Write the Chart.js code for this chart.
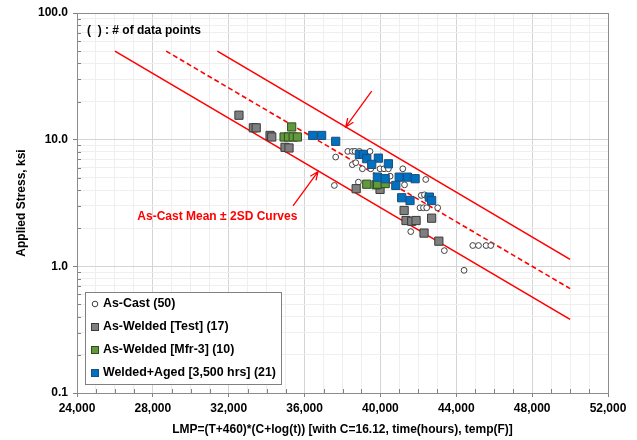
<!DOCTYPE html>
<html>
<head>
<meta charset="utf-8">
<script src="https://cdn.jsdelivr.net/npm/chart.js@4.4.1/dist/chart.umd.min.js"></script>
<style>
  html, body { margin: 0; padding: 0; background: #fff; }
  #wrap { width: 637px; height: 440px; }
</style>
</head>
<body>
<div id="wrap"><canvas id="lmpChart"></canvas></div>
<script>
// As-Cast (open circles)
const castLmp = [37570, 37640, 38280, 38520, 38660, 38890, 39450, 38520, 38700, 39050,
  39490, 39980, 40190, 40420, 41180, 40510, 38840, 41270, 42390, 42150,
  42320, 42480, 42090, 42270, 42440, 43020, 41600, 43370, 44870, 45170,
  45570, 45820, 44410];
const castStress = [4.35, 7.29, 8.08, 8.08, 8.08, 8.08, 8.08, 6.35, 6.58, 5.89,
  5.89, 5.89, 5.89, 5.89, 5.89, 5.15, 4.62, 4.40, 4.85, 3.63,
  3.67, 3.55, 2.90, 2.90, 2.90, 2.90, 1.88, 1.33, 1.46, 1.46,
  1.46, 1.46, 0.93];

// As-Welded [Test] (gray squares)
const testLmp = [32540, 33300, 33450, 34180, 34270, 34970, 35180, 38720, 39980, 41250,
  41350, 41650, 41880, 42700, 42300, 43080];
const testStress = [15.6, 12.4, 12.4, 10.8, 10.5, 8.7, 8.6, 4.1, 4.05, 2.76,
  2.30, 2.27, 2.30, 2.40, 1.83, 1.58];

// As-Welded [Mfr-3] (green squares)
const mfrLmp = [35320, 34920, 35150, 35400, 35620, 39280, 39770, 39850, 40250];
const mfrStress = [12.6, 10.5, 10.5, 10.5, 10.5, 4.45, 4.4, 4.45, 4.5];

// Welded+Aged [3,500 hrs] (blue squares)
const agedLmp = [36430, 36900, 37640, 38890, 39100, 39280, 39890, 39540, 40420, 39840,
  40250, 40990, 41420, 41830, 40810, 41120, 41560, 42580, 42700];
const agedStress = [10.8, 10.8, 9.7, 7.65, 7.65, 7.08, 7.15, 6.38, 6.45, 5.06,
  4.92, 5.06, 5.06, 4.92, 4.35, 3.48, 3.31, 3.52, 3.31];

// As-Cast mean and +/- 2SD curves
const meanLmp = [28700, 50000];
const meanStress = [50, 0.667];
const lowLmp = [26000, 50000];
const lowStress = [50, 0.381];
const highLmp = [31400, 50000];
const highStress = [50, 1.136];

// axis ticks
const yDecades = [0.1, 1, 10, 100];
const yDecadeLabels = ["0.1", "1.0", "10.0", "100.0"];
const xMin = 24000, xMax = 52000, xStep = 1000, xLabelStep = 4000;

const seriesNames = [
  "As-Cast (50)",
  "As-Welded [Test] (17)",
  "As-Welded [Mfr-3] (10)",
  "Welded+Aged [3,500 hrs] (21)",
];

// annotation arrows (from -> to, data units)
const arrowLow = { from: [35390, 3.0], to: [36710, 5.6] };
const arrowHigh = { from: [39540, 24.2], to: [38170, 12.6] };

function pairs(xs, ys) {
  return xs.map((x, i) => ({ x: x, y: ys[i] }));
}

// alle kleine log-ticks 0.1 .. 100
const yTickValues = [];
yDecades.forEach((d, i) => {
  if (i === yDecades.length - 1) {
    yTickValues.push(d);
    return;
  }
  for (let k = 1; k <= 9; k++) yTickValues.push(+(d * k).toPrecision(3));
});

function isDecade(v) {
  const l = Math.log10(v);
  return Math.abs(l - Math.round(l)) < 1e-9;
}

const boldFont = "'Liberation Sans', Arial, sans-serif";

const extras = {
  id: "extras",
  beforeDatasetsDraw(chart) {
    const { ctx, chartArea: a } = chart;
    const xs = chart.scales.x, ys = chart.scales.y;
    ctx.save();
    // kleine ticks naar binnen
    ctx.strokeStyle = "#808080";
    ctx.lineWidth = 1;
    ctx.beginPath();
    yTickValues.forEach((v) => {
      if (isDecade(v)) return;
      const py = Math.round(ys.getPixelForValue(v)) + 0.5;
      ctx.moveTo(a.left, py);
      ctx.lineTo(a.left + 4, py);
    });
    for (let v = xMin; v <= xMax; v += xStep) {
      if (v % xLabelStep === 0) continue;
      const px = Math.round(xs.getPixelForValue(v)) + 0.5;
      ctx.moveTo(px, a.bottom);
      ctx.lineTo(px, a.bottom - 4);
    }
    ctx.stroke();
    // kader
    ctx.strokeStyle = "#8c8c8c";
    ctx.strokeRect(Math.round(a.left) + 0.5, Math.round(a.top) + 0.5,
      Math.round(a.right - a.left), Math.round(a.bottom - a.top));
    ctx.restore();
  },
  afterDraw(chart) {
    const { ctx, chartArea: a } = chart;
    const xs = chart.scales.x, ys = chart.scales.y;
    ctx.save();

    // note top-left
    ctx.fillStyle = "#000";
    ctx.font = "bold 12px " + boldFont;
    ctx.textBaseline = "middle";
    ctx.textAlign = "left";
    ctx.fillText("(  ) : # of data points", a.left + 10, 31);

    // arrows
    ctx.strokeStyle = "#ff0000";
    ctx.lineWidth = 1.3;
    [arrowLow, arrowHigh].forEach((ar) => {
      const x1 = xs.getPixelForValue(ar.from[0]), y1 = ys.getPixelForValue(ar.from[1]);
      const x2 = xs.getPixelForValue(ar.to[0]), y2 = ys.getPixelForValue(ar.to[1]);
      const ang = Math.atan2(y2 - y1, x2 - x1);
      ctx.beginPath();
      ctx.moveTo(x1, y1);
      ctx.lineTo(x2, y2);
      ctx.moveTo(x2 - 9 * Math.cos(ang - 0.4), y2 - 9 * Math.sin(ang - 0.4));
      ctx.lineTo(x2, y2);
      ctx.lineTo(x2 - 9 * Math.cos(ang + 0.4), y2 - 9 * Math.sin(ang + 0.4));
      ctx.stroke();
    });
    ctx.fillStyle = "#ff0000";
    ctx.font = "bold 12px " + boldFont;
    ctx.textAlign = "center";
    const tx = xs.getPixelForValue(31400), ty = ys.getPixelForValue(2.45);
    ctx.fillText("As-Cast Mean \u00b1 2SD Curves", tx, ty);

    // legend box
    const bx = a.left + 8, by = a.top + 279, bw = 196, bh = 92;
    ctx.fillStyle = "#fff";
    ctx.fillRect(bx, by, bw, bh);
    ctx.strokeStyle = "#808080";
    ctx.lineWidth = 1;
    ctx.strokeRect(bx + 0.5, by + 0.5, bw, bh);
    ctx.font = "bold 12.4px " + boldFont;
    ctx.textAlign = "left";
    ctx.textBaseline = "middle";
    for (let i = 0; i < 4; i++) {
      const ds = chart.data.datasets[i];
      const cy = by + 12 + i * 23;
      const cx = bx + 10;
      ctx.fillStyle = ds.backgroundColor;
      ctx.strokeStyle = ds.borderColor;
      ctx.lineWidth = 1;
      if (ds.pointStyle === "circle") {
        ctx.beginPath();
        ctx.arc(cx, cy, 2.8, 0, Math.PI * 2);
        ctx.fill();
        ctx.stroke();
      } else {
        ctx.fillRect(cx - 3.5, cy - 3.5, 7, 7);
        ctx.strokeRect(cx - 3.5, cy - 3.5, 7, 7);
      }
      ctx.fillStyle = "#000";
      ctx.fillText(ds.label, bx + 18, cy);
    }
    ctx.restore();
  },
};

const pointSet = (label, xs, ys, style, r, bg, border, order) => ({
  label: label,
  data: pairs(xs, ys),
  pointStyle: style,
  pointRadius: r,
  pointHoverRadius: r,
  backgroundColor: bg,
  borderColor: border,
  borderWidth: 1,
  showLine: false,
  order: order,
});

const lineSet = (xs, ys, dash) => ({
  label: "",
  data: pairs(xs, ys),
  showLine: true,
  borderColor: "#ff0000",
  borderWidth: 1.6,
  borderDash: dash,
  pointRadius: 0,
  fill: false,
  order: 10,
});

new Chart(document.getElementById("lmpChart"), {
  type: "scatter",
  data: {
    datasets: [
      pointSet(seriesNames[0], castLmp, castStress, "circle", 2.9, "#ffffff", "#404040", 4),
      pointSet(seriesNames[1], testLmp, testStress, "rect", 5.8, "#7f7f7f", "#3a3a3a", 3),
      pointSet(seriesNames[2], mfrLmp, mfrStress, "rect", 5.8, "#62993e", "#2e4d1c", 2),
      pointSet(seriesNames[3], agedLmp, agedStress, "rect", 5.8, "#0070c0", "#1f4e79", 1),
      lineSet(meanLmp, meanStress, [5, 3]),
      lineSet(lowLmp, lowStress, []),
      lineSet(highLmp, highStress, []),
    ],
  },
  options: {
    responsive: true,
    maintainAspectRatio: false,
    animation: false,
    layout: { padding: { top: 13, right: 29, left: 0, bottom: 0 } },
    plugins: { legend: { display: false }, tooltip: { enabled: false } },
    scales: {
      x: {
        type: "linear",
        min: xMin,
        max: xMax,
        afterFit: (s) => { s.height = 47; },
        afterBuildTicks: (s) => {
          const t = [];
          for (let v = xMin; v <= xMax; v += xStep) t.push({ value: v });
          s.ticks = t;
        },
        ticks: {
          autoSkip: false,
          maxRotation: 0,
          padding: 4,
          color: "#000",
          font: { family: boldFont, size: 12, weight: "bold" },
          callback: (v) => (v % xLabelStep === 0 ? v.toLocaleString("en-US") : ""),
        },
        grid: {
          color: (c) => (c.tick && c.tick.value % xLabelStep === 0 ? "#d4d4d4" : "#efefef"),
          tickColor: (c) => (c.tick && c.tick.value % xLabelStep === 0 ? "#808080" : "rgba(0,0,0,0)"),
          tickLength: 4,
        },
        border: { color: "#808080" },
        title: {
          display: true,
          text: "LMP=(T+460)*(C+log(t)) [with C=16.12, time(hours), temp(F)]",
          color: "#000",
          font: { family: boldFont, size: 12, weight: "bold" },
          padding: { top: 0, bottom: 3 },
        },
      },
      y: {
        type: "logarithmic",
        min: 0.1,
        max: 100,
        afterFit: (s) => { s.width = 77; },
        afterBuildTicks: (s) => {
          s.ticks = yTickValues.map((v) => ({ value: v }));
        },
        ticks: {
          autoSkip: false,
          padding: 5,
          color: "#000",
          font: { family: boldFont, size: 12, weight: "bold" },
          callback: (v) => {
            const i = yDecades.findIndex((d) => Math.abs(d - v) < 1e-9);
            return i >= 0 ? yDecadeLabels[i] : "";
          },
        },
        grid: {
          color: (c) => (c.tick && isDecade(c.tick.value) ? "#d4d4d4" : "#efefef"),
          tickColor: (c) => (c.tick && isDecade(c.tick.value) ? "#808080" : "rgba(0,0,0,0)"),
          tickLength: 4,
        },
        border: { color: "#808080" },
        title: {
          display: true,
          text: "Applied Stress, ksi",
          color: "#000",
          font: { family: boldFont, size: 12, weight: "bold" },
          padding: { top: 14, bottom: 0 },
        },
      },
    },
  },
  plugins: [extras],
});
</script>
</body>
</html>
